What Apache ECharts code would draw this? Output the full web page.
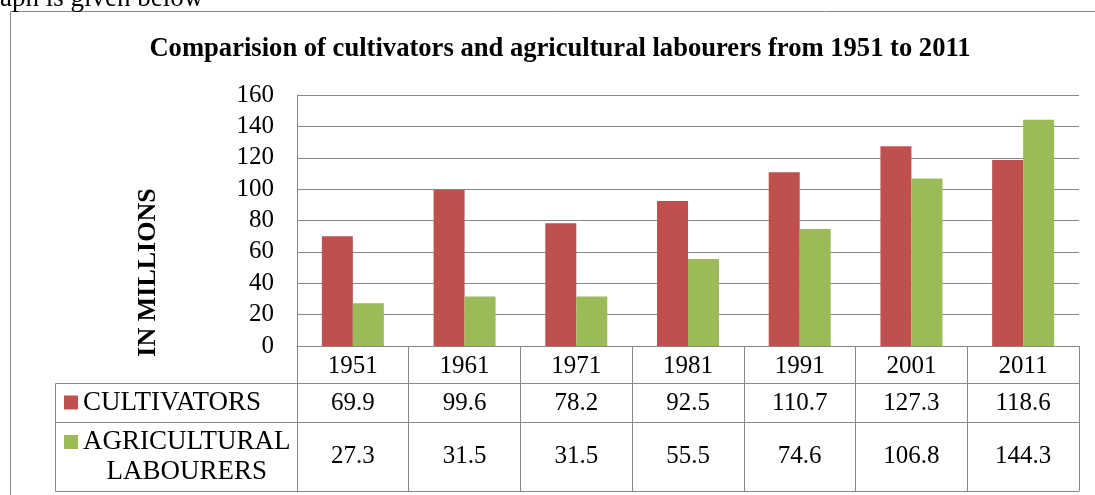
<!DOCTYPE html>
<html><head><meta charset="utf-8">
<script src="https://cdn.jsdelivr.net/npm/echarts@6/dist/echarts.min.js"></script>
<style>html,body{margin:0;padding:0;background:#fff}#c{width:1095px;height:495px}</style>
</head><body><div id="c"></div>
<script>
const years = ['1951','1961','1971','1981','1991','2001','2011'];
const cultivators = [69.9, 99.6, 78.2, 92.5, 110.7, 127.3, 118.6];
const labourers = [27.3, 31.5, 31.5, 55.5, 74.6, 106.8, 144.3];
const seriesNames = ['CULTIVATORS', 'AGRICULTURAL LABOURERS'];
const titleText = 'Comparision of cultivators and agricultural labourers from 1951 to 2011';
const yName = 'IN MILLIONS';
const topText = 'aph is given below';

const FONT = 'Liberation Serif';
const GRAY = '#888888';
const RED = '#C0504D', GREEN = '#9BBB59';
const fmt = v => v.toFixed(1);

const chart = echarts.init(document.getElementById('c'));
const numAxis = (data, offset, tickLen, margin) => ({
  type: 'category', data: data, position: 'bottom', offset: offset, gridIndex: 0,
  axisLine: {show: true, lineStyle: {color: GRAY, width: 1}},
  axisTick: {show: tickLen > 0, length: tickLen, alignWithLabel: false, interval: 0, lineStyle: {color: GRAY, width: 1}},
  axisLabel: {show: margin !== null, interval: 0, margin: margin || 0, color: '#000', fontFamily: FONT, fontSize: 25},
  splitLine: {show: false}
});
chart.setOption({
  animation: false,
  textStyle: {fontFamily: FONT},
  title: {text: titleText, left: 555, top: 31, textAlign: 'center',
    textStyle: {fontFamily: FONT, fontWeight: 'bold', fontSize: 26.6, color: '#000'}},
  grid: {left: 297, right: 16, top: 95, bottom: 149, containLabel: false},
  legend: [
    {data: [seriesNames[0]], left: 64, top: 389, padding: 0, itemWidth: 14, itemHeight: 14,
      icon: 'rect', itemGap: 0, selectedMode: false,
      textStyle: {fontFamily: FONT, fontSize: 27, color: '#000'}},
    {data: [seriesNames[1]], left: 64, top: 397, padding: 0, itemWidth: 14, itemHeight: 14,
      icon: 'rect', itemGap: 0, selectedMode: false,
      formatter: n => n.split(' ').map(w => '{c|' + w + '}').join('\n'),
      textStyle: {fontFamily: FONT, fontSize: 27, color: '#000', lineHeight: 30, padding: [30,0,0,0],
        rich: {c: {align: 'center', fontFamily: FONT, fontSize: 27, lineHeight: 30, color: '#000'}}}}
  ],
  xAxis: [
    numAxis(years, 0, 37, 8),
    numAxis(cultivators.map(fmt), 37, 39, 8),
    numAxis(labourers.map(fmt), 76, 69, 22),
    numAxis(years.map(() => ''), 145, 0, null)
  ],
  yAxis: {type: 'value', min: 0, max: 160, interval: 20,
    name: yName, nameLocation: 'middle', nameRotate: 90, nameGap: 136,
    nameTextStyle: {fontFamily: FONT, fontWeight: 'bold', fontSize: 26, color: '#000', padding: [0, 104, 0, 0]},
    axisLine: {show: true, lineStyle: {color: GRAY, width: 1}},
    axisTick: {show: false},
    axisLabel: {margin: 23, color: '#000', fontFamily: FONT, fontSize: 25},
    splitLine: {show: true, lineStyle: {color: GRAY, width: 1}}
  },
  series: [
    {name: seriesNames[0], type: 'bar', data: cultivators, barWidth: 31, barGap: '0%',
      itemStyle: {color: RED}},
    {name: seriesNames[1], type: 'bar', data: labourers, barWidth: 31, barGap: '0%',
      itemStyle: {color: GREEN}}
  ],
  graphic: [
    {type: 'rect', shape: {x: 10.5, y: 11.5, width: 1300, height: 700}, silent: true, z: -10,
      style: {fill: 'none', stroke: GRAY, lineWidth: 1}},
    {type: 'text', left: 0, top: -15, silent: true,
      style: {text: topText, font: '27px ' + FONT, fill: '#000'}},
    {type: 'rect', shape: {x: 55.5, y: 383.5, width: 242, height: 108}, silent: true,
      style: {fill: 'none', stroke: GRAY, lineWidth: 1}},
    {type: 'line', shape: {x1: 55.5, y1: 422.5, x2: 297, y2: 422.5}, silent: true,
      style: {stroke: GRAY, lineWidth: 1}}
  ]
});
</script></body></html>
